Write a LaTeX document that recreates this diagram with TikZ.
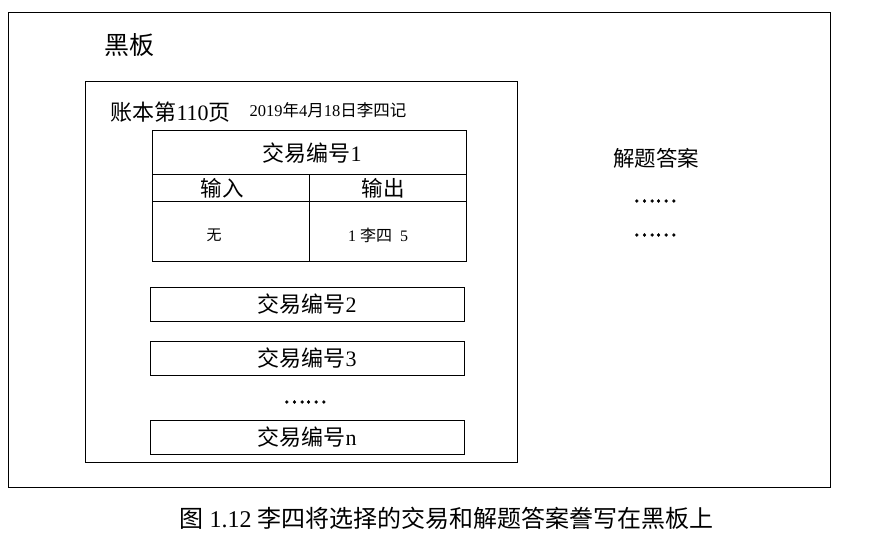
\documentclass[tikz,border=0pt]{standalone}
\usepackage{fontspec}
\setmainfont{Liberation Serif}
\newfontfamily\cjk{Noto Sans CJK SC}
\newfontfamily\cjkdots[FakeBold=2.5]{Noto Sans CJK SC}
\usetikzlibrary{calc}
\newcommand{\zh}[1]{{\cjk #1}}
\tikzset{
	rowbox/.style={draw, line width=1pt, minimum width=314pt, minimum height=34pt, inner sep=0pt, font=\fontsize{22}{22}\selectfont},
	dots/.style={font=\fontsize{20.5}{20.5}\selectfont\cjkdots}
}

\begin{document}
\begin{tikzpicture}[x=1pt,y=-1pt]
	\useasboundingbox (0,0) rectangle (873,536);
	\coordinate (B1) at (8,12);
	\coordinate (B2) at (830,487);
	\coordinate (L1) at (85,81);
	\coordinate (L2) at (517,462);
	
	\draw[line width=0.8pt] (B1) rectangle (B2);
	\draw[line width=1pt] (L1) rectangle (L2);
	
	\node (board) at (129,45) {\fontsize{25}{25}\selectfont\zh{黑板}};
	\node[anchor=west] (page) at (107,112) {\fontsize{22}{22}\selectfont\zh{账本第}110\zh{页}};
	\node[anchor=west] (date) at (246,110) {\fontsize{16.5}{16.5}\selectfont 2019\zh{年}4\zh{月}18\zh{日李四记}};
	
	% table of trade 1
	\coordinate (T1) at (152,130);
	\coordinate (T2) at (466,261);
	\draw[line width=1pt] (T1) rectangle (T2);
	\draw[line width=1pt] (152,174) -- (466,174);
	\draw[line width=1pt] (152,201) -- (466,201);
	\draw[line width=1pt] (309,174) -- (309,261);
	\node (t1) at (312,153) {\fontsize{22}{22}\selectfont\zh{交易编号}1};
	\node (in) at (222,188) {\fontsize{21.5}{21.5}\selectfont\zh{输入}};
	\node (out) at (383,188) {\fontsize{21.5}{21.5}\selectfont\zh{输出}};
	\node (none) at (214,235) {\fontsize{15}{15}\selectfont\zh{无}};
	\node (res) at (378,235) {\fontsize{16}{16}\selectfont 1 \zh{李四}\ \ 5};
	
	\node[rowbox] (t2) at (307,304) {\zh{交易编号}2};
	\node[rowbox] (t3) at (307,358) {\zh{交易编号}3};
	\node[dots] (d1) at (305,402) {……};
	\node[rowbox] (tn) at (307,437) {\zh{交易编号}n};
	
	\node (ans) at (656,158) {\fontsize{21.5}{21.5}\selectfont\zh{解题答案}};
	\node[dots] (d2) at (655,201) {……};
	\node[dots] (d3) at (655,235) {……};
	
	\node[anchor=west] (cap) at (176,518) {\fontsize{24}{24}\selectfont\zh{图} 1.12 \zh{李四将选择的交易和解题答案誊写在黑板上}};
\end{tikzpicture}
\end{document}
